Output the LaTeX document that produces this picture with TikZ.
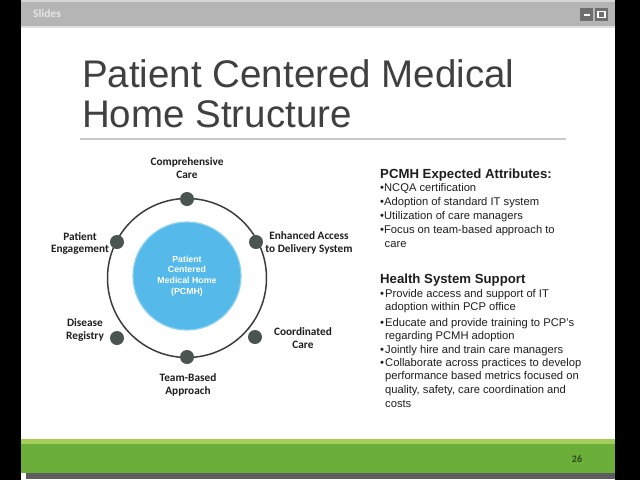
\documentclass[tikz,border=0pt]{standalone}
\usepackage{fontspec}
\setmainfont{Liberation Sans}
\newfontfamily\carlito{Carlito}
\definecolor{hdr}{RGB}{181,181,181}
\definecolor{hdrtop}{RGB}{214,214,214}
\definecolor{titlegray}{RGB}{64,64,64}
\definecolor{rulegray}{RGB}{200,200,200}
\definecolor{ringgray}{RGB}{60,60,60}
\definecolor{dotgray}{RGB}{74,84,80}
\definecolor{hubblue}{RGB}{85,185,233}
\definecolor{hubrim}{RGB}{140,210,240}
\definecolor{lightgreen}{RGB}{164,205,90}
\definecolor{maingreen}{RGB}{107,174,58}
\definecolor{footgray}{RGB}{93,93,93}
\definecolor{numgreen}{RGB}{40,72,28}
\definecolor{icongray}{RGB}{110,110,110}
\definecolor{txt}{RGB}{30,30,30}
\begin{document}
\begin{tikzpicture}[x=1pt,y=-1pt,
  dot/.style={circle,fill=dotgray,minimum size=14pt,inner sep=0pt},
  lbl/.style={align=center,text=txt,font=\carlito\bfseries\fontsize{11.3}{12.8}\selectfont},
  ttl/.style={anchor=base west,inner sep=0pt,text=titlegray,font=\fontsize{38.5}{40}\selectfont},
  head/.style={anchor=base west,inner sep=0pt,text=txt,font=\bfseries\fontsize{13.2}{15}\selectfont},
  bl/.style={anchor=base west,inner sep=0pt,text=txt,font=\fontsize{11.2}{13}\selectfont},
]
\useasboundingbox (0,0) rectangle (640,480);
% frame
\fill[black] (0,0) rectangle (640,480);
\fill[white] (21,0) rectangle (615,480);
% header
\fill[hdr] (21,0) rectangle (615,26);
\fill[hdrtop] (21,0) rectangle (615,2);
\fill[rulegray!60] (21,26) rectangle (615,28);
\node[anchor=west,inner sep=0pt,text=white!90!black,font=\carlito\bfseries\fontsize{11.5}{13}\selectfont] (slides) at (33,14) {Slides};
\fill[icongray] (580,8) rectangle (593,21);
\fill[white] (583.5,13.5) rectangle (589.5,16);
\fill[icongray] (595,8) rectangle (608,21);
\draw[white,line width=1.2pt] (598,11.5) rectangle (605,17.5);
% title
\node[ttl] (t1) at (82,87) {Patient Centered Medical};
\node[ttl] (t2) at (82,127) {Home Structure};
\draw[rulegray,line width=1.2pt] (80,139) -- (566,139);
% diagram
\draw[ringgray,line width=1.5pt] (187,278) circle (79.5);
\node[circle,fill=hubblue,draw=hubrim,line width=1.2pt,minimum size=108pt,inner sep=0pt] (hub) at (187,276) {};
\node[align=center,text=white,font=\bfseries\fontsize{8.8}{10.8}\selectfont] (hubtxt) at (187,276) {Patient\\Centered\\Medical Home\\(PCMH)};
\node[dot] (d1) at (187,199) {};
\node[dot] (d2) at (256,242) {};
\node[dot] (d3) at (255,337) {};
\node[dot] (d4) at (187,357) {};
\node[dot] (d5) at (117,338) {};
\node[dot] (d6) at (117,242) {};
\node[lbl] (l1) at (187,168) {Comprehensive\\Care};
\node[lbl] (l2) at (309,243) {Enhanced Access\\to Delivery System};
\node[lbl] (l3) at (303,338) {Coordinated\\Care};
\node[lbl] (l4) at (188,385) {Team-Based\\Approach};
\node[lbl] (l5) at (85,330) {Disease\\Registry};
\node[lbl] (l6) at (80,243.5) {Patient\\Engagement};
% right column: attributes
\node[head] (h1) at (380,178) {PCMH Expected Attributes:};
\node[bl] (a1) at (380,191) {•NCQA certification};
\node[bl] (a2) at (380,205) {•Adoption of standard IT system};
\node[bl] (a3) at (380,219) {•Utilization of care managers};
\node[bl] (a4) at (380,233) {•Focus on team-based approach to};
\node[bl] (a5) at (384.5,247) {care};
% right column: support
\node[head] (h2) at (380,283) {Health System Support};
\node[bl] (b1) at (380,297) {•};
\node[bl] (b1t) at (385,297) {Provide access and support of IT};
\node[bl] (b1c) at (385,310) {adoption within PCP office};
\node[bl] (b2) at (380,326) {•};
\node[bl] (b2t) at (385,326) {Educate and provide training to PCP’s};
\node[bl] (b2c) at (385,339) {regarding PCMH adoption};
\node[bl] (b3) at (380,353) {•};
\node[bl] (b3t) at (385,353) {Jointly hire and train care managers};
\node[bl] (b4) at (380,366) {•};
\node[bl] (b4t) at (385,366) {Collaborate across practices to develop};
\node[bl] (b4c) at (385,379) {performance based metrics focused on};
\node[bl] (b4d) at (385,393) {quality, safety, care coordination and};
\node[bl] (b4e) at (385,407) {costs};
% footer
\fill[lightgreen] (21,439) rectangle (615,444);
\fill[maingreen] (21,444) rectangle (615,473);
\fill[footgray] (26,473) rectangle (615,479);
\node[text=numgreen,font=\carlito\bfseries\fontsize{10}{11}\selectfont,inner sep=0pt] (pg) at (577,459) {26};
\end{tikzpicture}
\end{document}
